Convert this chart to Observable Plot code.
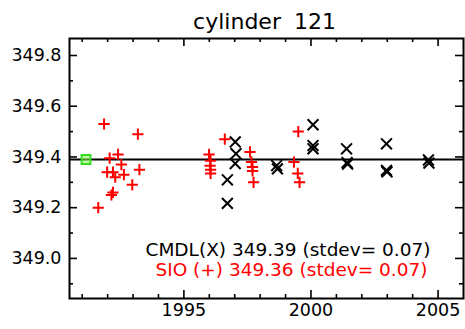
<!DOCTYPE html>
<html><head><meta charset="utf-8">
<script src="https://cdn.jsdelivr.net/npm/d3@7"></script>
<script src="https://cdn.jsdelivr.net/npm/@observablehq/plot@0.6"></script>
<style>body{margin:0;background:#fff}</style>
</head><body><div id="chart"></div>
<script>
const title = "cylinder 121";
const cmdlYears  = [1996.71, 1996.71, 1997.02, 1997.05, 1997.02, 1998.65, 1998.68, 2000.08, 2000.08, 2000.08, 2001.40, 2001.42, 2001.44, 2002.97, 2002.97, 2002.99, 2004.62, 2004.64];
const cmdlValues = [349.31, 349.217, 349.459, 349.413, 349.374, 349.366, 349.353, 349.527, 349.445, 349.432, 349.432, 349.378, 349.372, 349.452, 349.347, 349.341, 349.388, 349.376];
const sioYears  = [1991.86, 1993.19, 1992.41, 1992.08, 1992.54, 1993.25, 1991.98, 1992.21, 1992.64, 1992.30, 1992.97, 1992.21, 1992.15, 1991.63,
                   1995.99, 1996.05, 1996.03, 1996.05, 1996.05, 1996.61, 1997.60, 1997.66, 1997.70, 1997.70, 1997.74, 1999.50, 1999.33, 1999.48, 1999.55];
const sioValues = [349.53, 349.49, 349.41, 349.395, 349.37, 349.35, 349.34, 349.34, 349.33, 349.32, 349.29, 349.26, 349.25, 349.20,
                   349.41, 349.385, 349.365, 349.35, 349.335, 349.47, 349.42, 349.38, 349.36, 349.345, 349.30, 349.50, 349.38, 349.335, 349.30];
const cmdlMean = 349.39;
const refYears = [1991.15];
const refValues = [349.39];
const cmdlLabel = "CMDL(X) 349.39 (stdev= 0.07)";
const sioLabel = "SIO (+) 349.36 (stdev= 0.07)";
const xTickLabels = [1995, 2000, 2005];
const xMinorTicks = [1991, 1992, 1993, 1994, 1996, 1997, 1998, 1999, 2001, 2002, 2003, 2004];
const yTickLabels = [349.0, 349.2, 349.4, 349.6, 349.8];
const yMinorTicks = [348.9, 349.1, 349.3, 349.5, 349.7];
const xDomain = [1990.5, 2006];
const yDomain = [348.842, 349.867];

const W = 465, H = 329, mL = 69, mR = 2, mT = 38, mB = 31;
const fw = W - mL - mR, fh = H - mT - mB;
const cmdl = cmdlYears.map((x, i) => ({x, y: cmdlValues[i]}));
const sio = sioYears.map((x, i) => ({x, y: sioValues[i]}));
const ref = refYears.map((x, i) => ({x, y: refValues[i]}));

const plot = Plot.plot({
  width: W, height: H,
  marginLeft: mL, marginRight: mR, marginTop: mT, marginBottom: mB,
  style: {fontFamily: "DejaVu Sans", fontSize: "17px", color: "black", background: "white"},
  x: {domain: xDomain, label: null},
  y: {domain: yDomain, label: null},
  marks: [
    Plot.axisX({ticks: xTickLabels, tickSize: 0, tickPadding: 5, tickFormat: d => String(d), fontSize: 17.5, label: null}),
    Plot.axisY({ticks: yTickLabels, tickSize: 0, tickPadding: 8, tickFormat: d3.format(".1f"), fontSize: 17.5, label: null}),
    Plot.tickX(xTickLabels, {x: d => d, insetTop: fh - 8, stroke: "black", strokeWidth: 1.6}),
    Plot.tickX(xTickLabels, {x: d => d, insetBottom: fh - 8, stroke: "black", strokeWidth: 1.6}),
    Plot.tickX(xMinorTicks, {x: d => d, insetTop: fh - 4, stroke: "black", strokeWidth: 1.6}),
    Plot.tickX(xMinorTicks, {x: d => d, insetBottom: fh - 4, stroke: "black", strokeWidth: 1.6}),
    Plot.tickY(yTickLabels, {y: d => d, insetRight: fw - 8, stroke: "black", strokeWidth: 1.6}),
    Plot.tickY(yTickLabels, {y: d => d, insetLeft: fw - 8, stroke: "black", strokeWidth: 1.6}),
    Plot.tickY(yMinorTicks, {y: d => d, insetRight: fw - 4, stroke: "black", strokeWidth: 1.6}),
    Plot.tickY(yMinorTicks, {y: d => d, insetLeft: fw - 4, stroke: "black", strokeWidth: 1.6}),
    Plot.ruleY([cmdlMean], {stroke: "black", strokeWidth: 2}),
    Plot.dot(ref, {x: "x", y: "y", symbol: "square", r: 5, fill: "#88ff55", fillOpacity: 0.55, stroke: "#33dd22", strokeWidth: 2}),
    Plot.dot(sio, {x: "x", y: "y", symbol: "plus", r: 3.7, stroke: "red", strokeWidth: 2}),
    Plot.dot(cmdl, {x: "x", y: "y", symbol: "times", r: 5, stroke: "black", strokeWidth: 2}),
    Plot.text([cmdlLabel], {text: d => d, frameAnchor: "bottom-right", lineAnchor: "middle", textAnchor: "end", dx: -33, dy: -48, fill: "black", fontSize: 18.5}),
    Plot.text([sioLabel], {text: d => d, frameAnchor: "bottom-right", lineAnchor: "middle", textAnchor: "end", dx: -36, dy: -28, fill: "red", fontSize: 18.5}),
    Plot.text([title], {text: d => d, frameAnchor: "top", lineAnchor: "middle", dy: -17, dx: -2, fontSize: 22}),
    Plot.frame({stroke: "black", strokeWidth: 2})
  ]
});
d3.select(plot).selectAll("text").filter(function () { return this.textContent === title; }).style("word-spacing", "6px");
document.getElementById("chart").appendChild(plot);
</script>
</body></html>
